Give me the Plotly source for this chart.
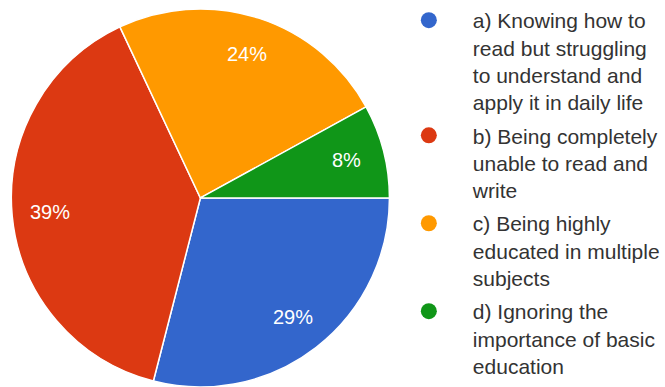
import math
import plotly.graph_objects as go

labels = [
    "a) Knowing how to<br>read but struggling<br>to understand and<br>apply it in daily life",
    "b) Being completely<br>unable to read and<br>write",
    "c) Being highly<br>educated in multiple<br>subjects",
    "d) Ignoring the<br>importance of basic<br>education",
]
values = [29, 39, 24, 8]
colors = ["#3366cc", "#dc3912", "#ff9900", "#109618"]

W, H = 665, 387
dom_x = [10 / W, 392 / W]
dom_y = [0.0, 0.977]

fig = go.Figure()
fig.add_trace(go.Pie(
    labels=labels, values=values, sort=False, direction="clockwise", rotation=90,
    marker=dict(colors=colors, line=dict(color="white", width=1.5)),
    textinfo="none",
    showlegend=False, hoverinfo="label+percent",
    domain=dict(x=dom_x, y=dom_y),
))

# percentage labels placed along each slice's mid-angle
total = sum(values)
cx = (dom_x[0] + dom_x[1]) / 2
cy = (dom_y[0] + dom_y[1]) / 2
r_px = min((dom_x[1] - dom_x[0]) * W, (dom_y[1] - dom_y[0]) * H) / 2
cum = 0
for v in values:
    mid = (cum + v / 2) / total * 2 * math.pi  # clockwise from 3 o'clock
    cum += v
    rr = 0.8 * r_px
    fig.add_annotation(
        x=cx + rr * math.cos(mid) / W, y=cy - rr * math.sin(mid) / H,
        xref="paper", yref="paper", xanchor="center", yanchor="middle",
        showarrow=False,
        text=f"{round(100 * v / total)}%",
        font=dict(color="white", size=20, family="Liberation Sans"),
    )

for lab, col in zip(labels, colors):
    fig.add_trace(go.Scatter(
        x=[None], y=[None], mode="markers", name=lab, legendgroup=lab,
        marker=dict(symbol="circle", size=20, color=col),
    ))

fig.update_layout(
    width=W, height=H, margin=dict(l=0, r=0, t=0, b=0),
    paper_bgcolor="white", plot_bgcolor="white",
    xaxis=dict(visible=False, domain=[0.62, 0.63]), yaxis=dict(visible=False),
    legend=dict(x=386 / W, y=1.0, xanchor="left", yanchor="top",
                bgcolor="rgba(0,0,0,0)", valign="top",
                font=dict(size=21, color="#333333", family="Liberation Sans"),
                itemsizing="trace", tracegroupgap=3, itemwidth=78),
)
fig.write_html("out.html", config={"displayModeBar": False},
               post_script="document.body.style.margin='0';")
